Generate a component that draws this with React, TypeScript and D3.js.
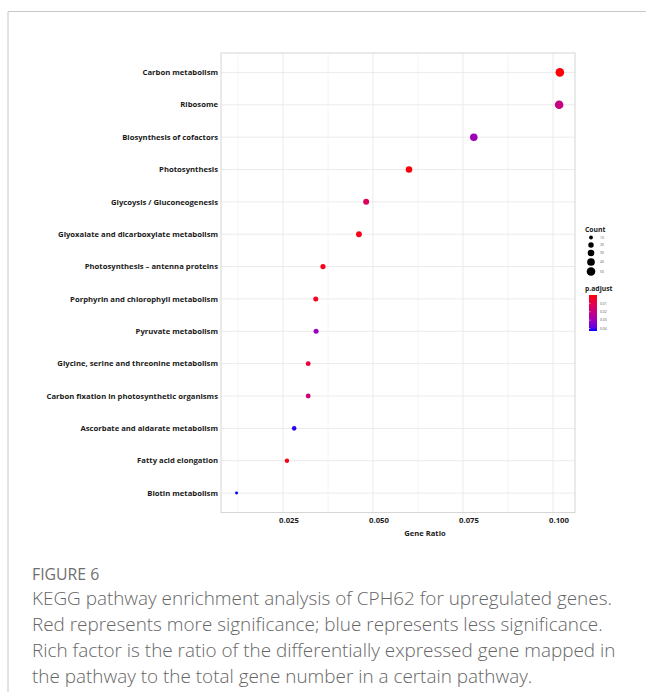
import React, { useRef, useEffect } from 'react';
import * as d3 from 'd3';

// pathways, top to bottom
const pathways = [
  'Carbon metabolism',
  'Ribosome',
  'Biosynthesis of cofactors',
  'Photosynthesis',
  'Glycoysis / Gluconeogenesis',
  'Glyoxalate and dicarboxylate metabolism',
  'Photosynthesis \u2013 antenna proteins',
  'Porphyrin and chlorophyll metabolism',
  'Pyruvate metabolism',
  'Glycine, serine and threonine metabolism',
  'Carbon fixation in photosynthetic organisms',
  'Ascorbate and aldarate metabolism',
  'Fatty acid elongation',
  'Biotin metabolism',
];
const geneRatio = [0.1019, 0.1017, 0.078, 0.06, 0.0481, 0.0461, 0.0361, 0.0341, 0.0342, 0.032, 0.032, 0.0281, 0.0261, 0.0121];
const counts = [50, 50, 38, 29, 24, 23, 18, 17, 17, 16, 16, 14, 13, 6];
const pAdjust = [0.0005, 0.02, 0.03, 0.001, 0.013, 0.002, 0.002, 0.003, 0.031, 0.007, 0.018, 0.042, 0.002, 0.043];

const xTicks = [0.025, 0.05, 0.075, 0.1];
const xMinor = [0.0125, 0.0375, 0.0625, 0.0875];
const countTicks = [10, 20, 30, 40, 50];
const pTicks = [0.01, 0.02, 0.03, 0.04];

const captionTitle = 'FIGURE 6';
const captionLines = [
  'KEGG pathway enrichment analysis of CPH62 for upregulated genes.',
  'Red represents more significance; blue represents less significance.',
  'Rich factor is the ratio of the differentially expressed gene mapped in',
  'the pathway to the total gene number in a certain pathway.',
];

const W = 646;
const H = 692;
const panel = { left: 221, right: 575, top: 53, bottom: 512.5 };

export default function App() {
  const ref = useRef<SVGSVGElement>(null);

  useEffect(() => {
    const svg = d3.select(ref.current);
    svg.selectAll('*').remove();

    // card frame
    svg.append('line').attr('x1', 8).attr('x2', W).attr('y1', 11.5).attr('y2', 11.5).attr('stroke', '#c8c8c8');
    svg.append('line').attr('x1', 8).attr('x2', 8).attr('y1', 11.5).attr('y2', H).attr('stroke', '#c8c8c8');

    const x = d3.scaleLinear().domain([0.025, 0.1]).range([283, 553]);
    const y = d3.scalePoint<string>().domain(pathways).range([panel.top, panel.bottom]).padding(0.6);
    const r = d3.scaleSqrt().domain([0, 50]).range([0, 4.3]);
    const color = d3.scaleLinear<string>().domain([0, 0.043]).range(['#ff0000', '#0000ff']).interpolate(d3.interpolateLab);

    const g = svg.append('g');

    // grid
    g.selectAll('.minor').data(xMinor).join('line')
      .attr('x1', (d) => x(d)).attr('x2', (d) => x(d))
      .attr('y1', panel.top).attr('y2', panel.bottom)
      .attr('stroke', '#f4f4f4');
    g.selectAll('.major').data(xTicks).join('line')
      .attr('x1', (d) => x(d)).attr('x2', (d) => x(d))
      .attr('y1', panel.top).attr('y2', panel.bottom)
      .attr('stroke', '#ebebeb');
    g.selectAll('.hgrid').data(pathways).join('line')
      .attr('x1', panel.left).attr('x2', panel.right)
      .attr('y1', (d) => y(d)!).attr('y2', (d) => y(d)!)
      .attr('stroke', '#ebebeb');

    g.append('rect')
      .attr('x', panel.left).attr('y', panel.top)
      .attr('width', panel.right - panel.left).attr('height', panel.bottom - panel.top)
      .attr('fill', 'none').attr('stroke', '#d6d6d6');

    // points
    g.selectAll('circle').data(pathways).join('circle')
      .attr('cx', (_, i) => x(geneRatio[i]))
      .attr('cy', (d) => y(d)!)
      .attr('r', (_, i) => r(counts[i]))
      .attr('fill', (_, i) => color(pAdjust[i]));

    const font = 'Open Sans, sans-serif';

    // y labels
    g.selectAll('.ylab').data(pathways).join('text')
      .attr('x', panel.left - 3).attr('y', (d) => y(d)!)
      .attr('dy', '0.35em').attr('text-anchor', 'end')
      .attr('font-family', font).attr('font-weight', 'bold').attr('font-size', 7.7)
      .attr('fill', '#1a1a1a')
      .text((d) => d);

    // x labels
    g.selectAll('.xlab').data(xTicks).join('text')
      .attr('x', (d) => x(d) + 6).attr('y', 523)
      .attr('text-anchor', 'middle')
      .attr('font-family', font).attr('font-weight', 'bold').attr('font-size', 7.8)
      .attr('fill', '#1a1a1a')
      .text((d) => d3.format('.3f')(d));

    g.append('text')
      .attr('x', 425).attr('y', 536).attr('text-anchor', 'middle')
      .attr('font-family', font).attr('font-weight', 'bold').attr('font-size', 7.6)
      .attr('fill', '#1a1a1a').text('Gene Ratio');

    // legend: Count
    const lg = svg.append('g');
    lg.append('text').attr('x', 585).attr('y', 232)
      .attr('font-family', font).attr('font-weight', 'bold').attr('font-size', 6.8)
      .attr('fill', '#1a1a1a').text('Count');
    const cy = [237.5, 245, 253, 262, 271.5];
    lg.selectAll('.lc').data(countTicks).join('circle')
      .attr('cx', 591).attr('cy', (_, i) => cy[i]).attr('r', (d) => r(d)).attr('fill', '#000');
    lg.selectAll('.lct').data(countTicks).join('text')
      .attr('x', 600).attr('y', (_, i) => cy[i]).attr('dy', '0.35em')
      .attr('font-family', font).attr('font-size', 3.4).attr('fill', '#555')
      .text((d) => d);

    // legend: p.adjust
    lg.append('text').attr('x', 585).attr('y', 291)
      .attr('font-family', font).attr('font-weight', 'bold').attr('font-size', 6.8)
      .attr('fill', '#1a1a1a').text('p.adjust');
    const barTop = 295;
    const barBot = 331;
    const py = d3.scaleLinear().domain([0, 0.043]).range([barTop, barBot]);
    const defs = svg.append('defs');
    const grad = defs.append('linearGradient').attr('id', 'pgrad').attr('x1', 0).attr('x2', 0).attr('y1', 0).attr('y2', 1);
    d3.range(0, 1.0001, 0.1).forEach((t) => {
      grad.append('stop').attr('offset', t).attr('stop-color', color(t * 0.043));
    });
    lg.append('rect').attr('x', 589).attr('y', barTop).attr('width', 8).attr('height', barBot - barTop).attr('fill', 'url(#pgrad)');
    lg.selectAll('.pt').data(pTicks).join('line')
      .attr('x1', 589).attr('x2', 590.5).attr('y1', (d) => py(d)).attr('y2', (d) => py(d)).attr('stroke', '#fff').attr('stroke-width', 0.5);
    lg.selectAll('.ptl').data(pTicks).join('text')
      .attr('x', 600).attr('y', (d) => py(d)).attr('dy', '0.35em')
      .attr('font-family', font).attr('font-size', 3.4).attr('fill', '#555')
      .text((d) => d3.format('.2f')(d));

    // caption
    const cap = svg.append('g');
    cap.append('text').attr('x', 32).attr('y', 580)
      .attr('font-family', font).attr('font-size', 15.8).attr('fill', '#6f6f6f')
      .text(captionTitle);
    cap.selectAll('.cl').data(captionLines).join('text')
      .attr('x', 32).attr('y', (_, i) => 605 + i * 26)
      .attr('font-family', font).attr('font-weight', 300).attr('font-size', 18.9).attr('fill', '#666')
      .text((d) => d);
  }, []);

  return (
    <svg
      ref={ref}
      width={W}
      height={H}
      style={{ position: 'absolute', left: 0, top: 0, background: '#fff' }}
    />
  );
}
